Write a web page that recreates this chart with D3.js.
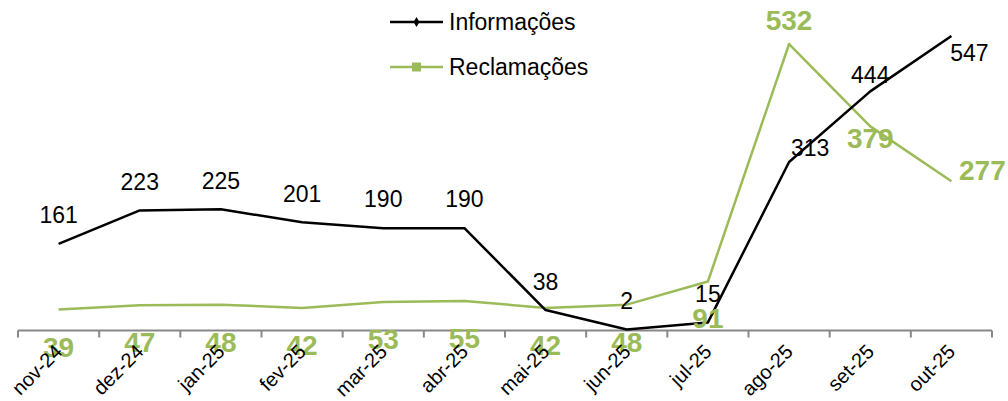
<!DOCTYPE html>
<html>
<head>
<meta charset="utf-8">
<script src="https://cdn.jsdelivr.net/npm/d3@7.9.0/dist/d3.min.js"></script>
<style>
  body { margin: 0; background: #fff; }
  svg { display: block; font-family: "Liberation Sans", Arial, sans-serif; }
</style>
</head>
<body>
<svg id="chart" width="1008" height="401"></svg>
<script>
// data
const months = ['nov-24', 'dez-24', 'jan-25', 'fev-25', 'mar-25', 'abr-25',
  'mai-25', 'jun-25', 'jul-25', 'ago-25', 'set-25', 'out-25'];
const informacoes = [161, 223, 225, 201, 190, 190, 38, 2, 15, 313, 444, 547];
const reclamacoes = [39, 47, 48, 42, 53, 55, 42, 48, 91, 532, 379, 277];

// label nudges (dx, dy from the point to the label centre)
const infoLabelOffset = [[0, -29], [0, -29], [0, -29], [0, -29], [0, -29], [0, -29],
  [0, -28], [0, -29], [0, -29], [21, -14], [0, -17], [18, 17]];
const reclLabelOffset = [[0, 37], [0, 37], [0, 37], [0, 37], [0, 37], [0, 37],
  [0, 37], [0, 37], [0, 36], [0, -24], [0, 12], [31, -11]];

const green = '#9bbb59';
const svg = d3.select('#chart');

let x = d3.scaleBand().domain(months).range([18, 992]);
let y = d3.scaleLinear().domain([0, 600]).range([330.5, 7.4]);
const cx = (d) => x(d) + x.bandwidth() / 2;

// x axis (ticks sit on the band edges, like excel)
let gx = svg.append('g').attr('transform', 'translate(0,330.5)');
gx.append('line').attr('x1', 18).attr('x2', 992).attr('stroke', '#888').attr('stroke-width', 2);
months.concat(['end']).forEach((m, i) => {
  let xx = i < months.length ? x(m) : x.range()[1];
  gx.append('line').attr('x1', xx).attr('x2', xx).attr('y1', 0).attr('y2', 7)
    .attr('stroke', '#888').attr('stroke-width', 2);
});

// lines
let line = d3.line()
  .x((d, i) => cx(months[i]))
  .y((d) => y(d));

svg.append('path').datum(reclamacoes)
  .attr('d', line).attr('fill', 'none')
  .attr('stroke', green).attr('stroke-width', 2.5).attr('stroke-linejoin', 'round');

svg.append('path').datum(informacoes)
  .attr('d', line).attr('fill', 'none')
  .attr('stroke', '#000').attr('stroke-width', 2.5).attr('stroke-linejoin', 'round');

// data labels
svg.append('g').selectAll('text')
  .data(informacoes)
  .join('text')
  .attr('x', (d, i) => cx(months[i]) + infoLabelOffset[i][0])
  .attr('y', (d, i) => y(d) + infoLabelOffset[i][1])
  .attr('dy', '0.36em')
  .attr('text-anchor', 'middle')
  .attr('font-size', 23)
  .attr('fill', '#000')
  .text((d) => d);

svg.append('g').selectAll('text')
  .data(reclamacoes)
  .join('text')
  .attr('x', (d, i) => cx(months[i]) + reclLabelOffset[i][0])
  .attr('y', (d, i) => y(d) + reclLabelOffset[i][1])
  .attr('dy', '0.36em')
  .attr('text-anchor', 'middle')
  .attr('font-size', 28)
  .attr('font-weight', 'bold')
  .attr('fill', green)
  .text((d) => d);

// month labels drawn last so they sit over the green numbers
svg.append('g').selectAll('text')
  .data(months)
  .join('text')
  .attr('transform', (d) => `translate(${cx(d) + 5},353) rotate(-45)`)
  .attr('text-anchor', 'end')
  .attr('font-size', 20)
  .attr('fill', '#000')
  .text((d) => d);

// legend
let legend = svg.append('g');
legend.append('line').attr('x1', 390).attr('x2', 443).attr('y1', 22).attr('y2', 22)
  .attr('stroke', '#000').attr('stroke-width', 2.5);
legend.append('path').attr('d', d3.symbol(d3.symbolDiamond, 30)())
  .attr('transform', 'translate(416.5,22)').attr('fill', '#000');
legend.append('text').attr('x', 449).attr('y', 30).attr('font-size', 23).text('Informações');

legend.append('line').attr('x1', 390).attr('x2', 443).attr('y1', 67).attr('y2', 67)
  .attr('stroke', green).attr('stroke-width', 2.5);
legend.append('rect').attr('x', 412).attr('y', 62.5).attr('width', 9).attr('height', 9)
  .attr('fill', green);
legend.append('text').attr('x', 449).attr('y', 75).attr('font-size', 23).text('Reclamações');
</script>
</body>
</html>
